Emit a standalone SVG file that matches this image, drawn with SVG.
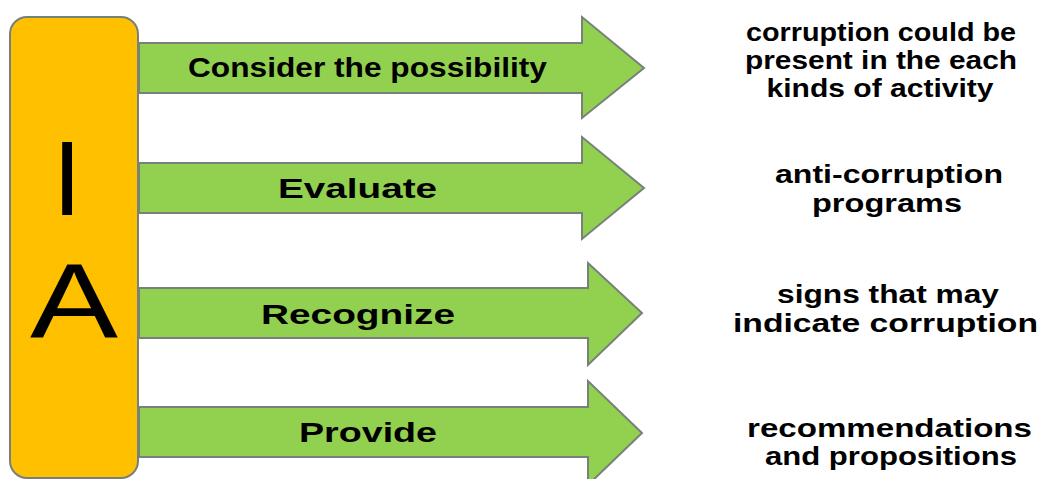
<svg xmlns="http://www.w3.org/2000/svg" width="1040" height="479" viewBox="0 0 1040 479">
<style>
.bar{fill:#ffc000;stroke:#78807a;stroke-width:2}
.arr{fill:#92d050;stroke:#78807a;stroke-width:2;stroke-linejoin:miter}
.lbl{font-family:"Liberation Sans",Arial,sans-serif;font-weight:bold;font-size:28px;fill:#000;text-anchor:middle}
.big{font-family:"Liberation Sans",Arial,sans-serif;font-weight:normal;font-size:105px;fill:#000;text-anchor:middle}
.desc{font-family:"Liberation Sans",Arial,sans-serif;font-weight:bold;font-size:25px;fill:#000;text-anchor:middle}
</style>
<rect width="1040" height="479" fill="#ffffff"/>
<g id="connectors"></g>
<g id="ia-bar">
<rect class="bar" x="10" y="17" width="128" height="461" rx="17" ry="17"/>
<text class="big" x="67" y="215">I</text>
<text class="big" x="74" y="337" textLength="88" lengthAdjust="spacingAndGlyphs">A</text>
</g>
<g id="arrow-consider">
<path class="arr" d="M139,43 H582 V17 L644,68 L582,118 V93 H139 Z"/>
<text class="lbl" x="367.5" y="77" textLength="359" lengthAdjust="spacingAndGlyphs">Consider the possibility</text>
</g>
<g id="arrow-evaluate">
<path class="arr" d="M139,163 H582 V137 L644,188 L582,239 V213 H139 Z"/>
<text class="lbl" x="357.5" y="198" textLength="159" lengthAdjust="spacingAndGlyphs">Evaluate</text>
</g>
<g id="arrow-recognize">
<path class="arr" d="M139,288 H588 V263 L642,313 L588,365 V338 H139 Z"/>
<text class="lbl" x="358" y="324" textLength="194" lengthAdjust="spacingAndGlyphs">Recognize</text>
</g>
<g id="arrow-provide">
<path class="arr" d="M139,407 H588 V381 L642,433 L588,485 V457 H139 Z"/>
<text class="lbl" x="368" y="442" textLength="138" lengthAdjust="spacingAndGlyphs">Provide</text>
</g>
<g id="desc-consider">
<text class="desc" x="881" y="41" textLength="270" lengthAdjust="spacingAndGlyphs">corruption could be</text>
<text class="desc" x="881" y="69" textLength="272" lengthAdjust="spacingAndGlyphs">present in the each</text>
<text class="desc" x="880" y="97" textLength="227" lengthAdjust="spacingAndGlyphs">kinds of activity</text>
</g>
<g id="desc-evaluate">
<text class="desc" x="889" y="183" textLength="228" lengthAdjust="spacingAndGlyphs">anti-corruption</text>
<text class="desc" x="887" y="212" textLength="150" lengthAdjust="spacingAndGlyphs">programs</text>
</g>
<g id="desc-recognize">
<text class="desc" x="888" y="303" textLength="222" lengthAdjust="spacingAndGlyphs">signs that may</text>
<text class="desc" x="885.5" y="332" textLength="305" lengthAdjust="spacingAndGlyphs">indicate corruption</text>
</g>
<g id="desc-provide">
<text class="desc" x="889.5" y="437" textLength="285" lengthAdjust="spacingAndGlyphs">recommendations</text>
<text class="desc" x="891" y="465" textLength="252" lengthAdjust="spacingAndGlyphs">and propositions</text>
</g>
</svg>
